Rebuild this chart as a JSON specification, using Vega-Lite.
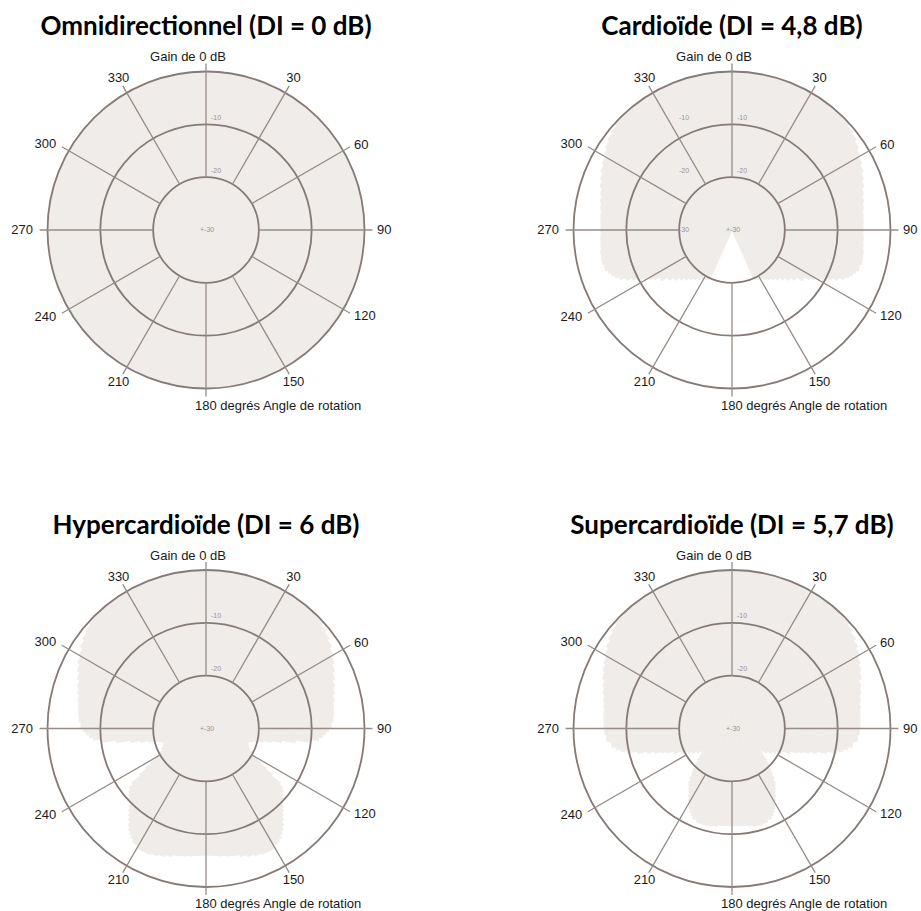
{
  "$schema": "https://vega.github.io/schema/vega-lite/v6.json",
  "background": "white",
  "padding": {"left": 11, "top": 14, "right": 0, "bottom": 0},
  "config": {
    "view": {"stroke": null},
    "title": {"font": "Lato", "fontSize": 26, "fontWeight": "bold", "color": "#000000", "anchor": "middle", "offset": 10, "baseline": "alphabetic"}
  },
  "columns": 2,
  "bounds": "flush",
  "spacing": {"row": 138.5, "column": 166},
  "datasets": {
    "omni": [{"v": 0}],
    "rings": [{"v": -20}, {"v": -10}, {"v": 0}],
    "spokes": [{"a": 0}, {"a": 30}, {"a": 60}, {"a": 90}, {"a": 120}, {"a": 150}, {"a": 180}, {"a": 210}, {"a": 240}, {"a": 270}, {"a": 300}, {"a": 330}],
    "lblC": [{"a": 30, "t": "30"}, {"a": 150, "t": "150"}, {"a": 210, "t": "210"}, {"a": 330, "t": "330"}],
    "lblL": [{"a": 60, "t": "60"}, {"a": 90, "t": "90"}, {"a": 120, "t": "120"}],
    "lblR": [{"a": 240, "t": "240"}, {"a": 270, "t": "270"}, {"a": 300, "t": "300"}],
    "top": [{"a": 0, "t": "Gain de 0 dB"}],
    "bottom": [{"a": 180, "t": "180 degrés Angle de rotation"}],
    "dbl": [{"v": -10, "t": "-10"}, {"v": -20, "t": "-20"}],
    "ctr": [{"v": -30, "t": "+-30"}],
    "ctr2": [{"v": -30, "t": "-30"}],
    "cardio": [
      {"a": 0, "b": 3, "v": 0}, {"a": 3, "b": 6, "v": 0}, {"a": 6, "b": 9, "v": 0}, {"a": 9, "b": 12, "v": 0}, {"a": 12, "b": 15, "v": 0},
      {"a": 15, "b": 18, "v": 0}, {"a": 18, "b": 21, "v": 0}, {"a": 21, "b": 24, "v": 0}, {"a": 24, "b": 27, "v": 0}, {"a": 27, "b": 30, "v": 0},
      {"a": 30, "b": 33, "v": 0}, {"a": 33, "b": 36, "v": 0}, {"a": 36, "b": 39, "v": 0}, {"a": 39, "b": 42, "v": 0}, {"a": 42, "b": 45, "v": 0},
      {"a": 45, "b": 48, "v": -0.2}, {"a": 48, "b": 51, "v": -0.6}, {"a": 51, "b": 54, "v": -0.9}, {"a": 54, "b": 57, "v": -1.4}, {"a": 57, "b": 60, "v": -1.9},
      {"a": 60, "b": 63, "v": -2.4}, {"a": 63, "b": 66, "v": -2.8}, {"a": 66, "b": 69, "v": -3.3}, {"a": 69, "b": 72, "v": -3.7}, {"a": 72, "b": 75, "v": -4.2},
      {"a": 75, "b": 78, "v": -4.5}, {"a": 78, "b": 81, "v": -4.8}, {"a": 81, "b": 84, "v": -5.0}, {"a": 84, "b": 87, "v": -5.1}, {"a": 87, "b": 90, "v": -5.2},
      {"a": 90, "b": 93, "v": -5.2}, {"a": 93, "b": 96, "v": -5.1}, {"a": 96, "b": 99, "v": -5.0}, {"a": 99, "b": 102, "v": -4.8}, {"a": 102, "b": 105, "v": -4.7},
      {"a": 105, "b": 108, "v": -4.9},
      {"a": 108, "b": 109.5, "v": -5.3}, {"a": 109.5, "b": 111, "v": -5.7}, {"a": 111, "b": 112.5, "v": -6.2}, {"a": 112.5, "b": 114, "v": -6.9}, {"a": 114, "b": 115.5, "v": -7.9},
      {"a": 115.5, "b": 117, "v": -9.0}, {"a": 117, "b": 118.5, "v": -10.1}, {"a": 118.5, "b": 120, "v": -11.0}, {"a": 120, "b": 121.5, "v": -11.9}, {"a": 121.5, "b": 123, "v": -12.6},
      {"a": 123, "b": 126, "v": -13.6}, {"a": 126, "b": 129, "v": -14.8}, {"a": 129, "b": 132, "v": -15.7}, {"a": 132, "b": 135, "v": -16.5},
      {"a": 135, "b": 138, "v": -17.2}, {"a": 138, "b": 141, "v": -17.8}, {"a": 141, "b": 144, "v": -18.3}, {"a": 144, "b": 147, "v": -18.7}, {"a": 147, "b": 150, "v": -19.1},
      {"a": 150, "b": 153, "v": -19.4}, {"a": 153, "b": 156, "v": -19.7}, {"a": 156, "b": 159, "v": -30}, {"a": 159, "b": 162, "v": -30}, {"a": 162, "b": 165, "v": -30},
      {"a": 165, "b": 168, "v": -30}, {"a": 168, "b": 171, "v": -30}, {"a": 171, "b": 174, "v": -30}, {"a": 174, "b": 177, "v": -30}, {"a": 177, "b": 180, "v": -30}
    ],
    "hyper": [
      {"a": 0, "b": 3, "v": 0}, {"a": 3, "b": 6, "v": 0}, {"a": 6, "b": 9, "v": 0}, {"a": 9, "b": 12, "v": 0}, {"a": 12, "b": 15, "v": 0},
      {"a": 15, "b": 18, "v": 0}, {"a": 18, "b": 21, "v": 0}, {"a": 21, "b": 24, "v": 0}, {"a": 24, "b": 27, "v": 0}, {"a": 27, "b": 30, "v": 0},
      {"a": 30, "b": 33, "v": 0}, {"a": 33, "b": 36, "v": 0}, {"a": 36, "b": 39, "v": 0}, {"a": 39, "b": 42, "v": 0}, {"a": 42, "b": 45, "v": 0},
      {"a": 45, "b": 48, "v": -0.3}, {"a": 48, "b": 51, "v": -0.7}, {"a": 51, "b": 54, "v": -1.1}, {"a": 54, "b": 57, "v": -1.6}, {"a": 57, "b": 60, "v": -2.2},
      {"a": 60, "b": 63, "v": -2.7}, {"a": 63, "b": 66, "v": -3.3}, {"a": 66, "b": 69, "v": -3.9}, {"a": 69, "b": 72, "v": -4.4}, {"a": 72, "b": 75, "v": -4.8},
      {"a": 75, "b": 78, "v": -5.2}, {"a": 78, "b": 81, "v": -5.5}, {"a": 81, "b": 84, "v": -5.7}, {"a": 84, "b": 87, "v": -5.9}, {"a": 87, "b": 90, "v": -6.3},
      {"a": 90, "b": 91.5, "v": -6.8}, {"a": 91.5, "b": 93, "v": -7.3}, {"a": 93, "b": 94.5, "v": -7.9}, {"a": 94.5, "b": 96, "v": -8.6}, {"a": 96, "b": 97.5, "v": -10.1},
      {"a": 97.5, "b": 99, "v": -12.9}, {"a": 99, "b": 100.5, "v": -15.5}, {"a": 100.5, "b": 102, "v": -17.4}, {"a": 102, "b": 103.5, "v": -18.9}, {"a": 103.5, "b": 105, "v": -20.0},
      {"a": 105, "b": 106.5, "v": -20.9}, {"a": 106.5, "b": 108, "v": -21.4},
      {"a": 108, "b": 111, "v": -21.6}, {"a": 111, "b": 114, "v": -21.3}, {"a": 114, "b": 117, "v": -20.8},
      {"a": 117, "b": 118.5, "v": -20.2}, {"a": 118.5, "b": 120, "v": -19.7}, {"a": 120, "b": 121.5, "v": -18.8}, {"a": 121.5, "b": 123, "v": -17.7}, {"a": 123, "b": 124.5, "v": -16.4},
      {"a": 124.5, "b": 126, "v": -14.7}, {"a": 126, "b": 127.5, "v": -12.6}, {"a": 127.5, "b": 129, "v": -11.6}, {"a": 129, "b": 130.5, "v": -11.1}, {"a": 130.5, "b": 132, "v": -10.7},
      {"a": 132, "b": 135, "v": -10.0},
      {"a": 135, "b": 136.5, "v": -9.2}, {"a": 136.5, "b": 138, "v": -8.6}, {"a": 138, "b": 139.5, "v": -8.0}, {"a": 139.5, "b": 141, "v": -7.3}, {"a": 141, "b": 142.5, "v": -6.5},
      {"a": 142.5, "b": 144, "v": -5.9}, {"a": 144, "b": 145.5, "v": -5.4}, {"a": 145.5, "b": 147, "v": -4.9},
      {"a": 147, "b": 150, "v": -4.4}, {"a": 150, "b": 153, "v": -3.9}, {"a": 153, "b": 156, "v": -3.9}, {"a": 156, "b": 159, "v": -4.2}, {"a": 159, "b": 162, "v": -4.5},
      {"a": 162, "b": 165, "v": -4.9}, {"a": 165, "b": 168, "v": -5.3}, {"a": 168, "b": 171, "v": -5.5}, {"a": 171, "b": 174, "v": -5.7}, {"a": 174, "b": 177, "v": -5.9},
      {"a": 177, "b": 180, "v": -6.0}
    ],
    "super": [
      {"a": 0, "b": 3, "v": 0}, {"a": 3, "b": 6, "v": 0}, {"a": 6, "b": 9, "v": 0}, {"a": 9, "b": 12, "v": 0}, {"a": 12, "b": 15, "v": 0},
      {"a": 15, "b": 18, "v": 0}, {"a": 18, "b": 21, "v": 0}, {"a": 21, "b": 24, "v": 0}, {"a": 24, "b": 27, "v": 0}, {"a": 27, "b": 30, "v": 0},
      {"a": 30, "b": 33, "v": 0}, {"a": 33, "b": 36, "v": 0}, {"a": 36, "b": 39, "v": 0}, {"a": 39, "b": 42, "v": 0}, {"a": 42, "b": 45, "v": 0},
      {"a": 45, "b": 48, "v": -0.3}, {"a": 48, "b": 51, "v": -0.7}, {"a": 51, "b": 54, "v": -1.1}, {"a": 54, "b": 57, "v": -1.6}, {"a": 57, "b": 60, "v": -2.1},
      {"a": 60, "b": 63, "v": -2.7}, {"a": 63, "b": 66, "v": -3.2}, {"a": 66, "b": 69, "v": -3.7}, {"a": 69, "b": 72, "v": -4.3}, {"a": 72, "b": 75, "v": -4.7},
      {"a": 75, "b": 78, "v": -5.1}, {"a": 78, "b": 81, "v": -5.4}, {"a": 81, "b": 84, "v": -5.6}, {"a": 84, "b": 87, "v": -5.7}, {"a": 87, "b": 90, "v": -5.8},
      {"a": 90, "b": 93, "v": -5.9}, {"a": 93, "b": 96, "v": -6.2}, {"a": 96, "b": 99, "v": -7.0},
      {"a": 99, "b": 100.5, "v": -7.8}, {"a": 100.5, "b": 102, "v": -8.6}, {"a": 102, "b": 103.5, "v": -9.7}, {"a": 103.5, "b": 105, "v": -11.5}, {"a": 105, "b": 106.5, "v": -13.3},
      {"a": 106.5, "b": 108, "v": -14.7}, {"a": 108, "b": 109.5, "v": -15.9}, {"a": 109.5, "b": 111, "v": -16.9},
      {"a": 111, "b": 114, "v": -18.1}, {"a": 114, "b": 117, "v": -19.5}, {"a": 117, "b": 120, "v": -20.5}, {"a": 120, "b": 123, "v": -21.3}, {"a": 123, "b": 126, "v": -22.0},
      {"a": 126, "b": 129, "v": -22.9},
      {"a": 129, "b": 130.5, "v": -22.5}, {"a": 130.5, "b": 132, "v": -21.9}, {"a": 132, "b": 133.5, "v": -21.2}, {"a": 133.5, "b": 135, "v": -20.5}, {"a": 135, "b": 136.5, "v": -19.9},
      {"a": 136.5, "b": 138, "v": -19.2}, {"a": 138, "b": 139.5, "v": -18.5}, {"a": 139.5, "b": 141, "v": -17.7}, {"a": 141, "b": 142.5, "v": -16.8}, {"a": 142.5, "b": 144, "v": -16.4},
      {"a": 144, "b": 145.5, "v": -15.9}, {"a": 145.5, "b": 147, "v": -15.4}, {"a": 147, "b": 148.5, "v": -14.7}, {"a": 148.5, "b": 150, "v": -14.1}, {"a": 150, "b": 151.5, "v": -13.4},
      {"a": 151.5, "b": 153, "v": -12.8}, {"a": 153, "b": 154.5, "v": -12.3}, {"a": 154.5, "b": 156, "v": -11.8},
      {"a": 156, "b": 159, "v": -11.4}, {"a": 159, "b": 162, "v": -11.1}, {"a": 162, "b": 165, "v": -11.0}, {"a": 165, "b": 168, "v": -11.1}, {"a": 168, "b": 171, "v": -11.3},
      {"a": 171, "b": 174, "v": -11.5}, {"a": 174, "b": 177, "v": -11.6}, {"a": 177, "b": 180, "v": -11.6}
    ]
  },
  "concat": [
    {
      "title": "Omnidirectionnel (DI = 0 dB)",
      "width": 360, "height": 360,
      "resolve": {"scale": {"theta": "independent"}},
      "layer": [
        {"data": {"name": "omni"}, "mark": {"type": "arc", "theta": 0, "theta2": 6.2832, "fill": "#efecea"}, "encoding": {"radius": {"field": "v", "type": "quantitative", "scale": {"type": "linear", "domain": [-30, 0], "range": [0, 158.5]}}, "radius2": {"datum": -30}}},
        {"data": {"name": "rings"}, "mark": {"type": "arc", "theta": 0, "theta2": 6.2832, "filled": false, "stroke": "#857a75", "strokeWidth": 1.8}, "encoding": {"radius": {"field": "v", "type": "quantitative"}, "radius2": {"datum": -30}}},
        {"data": {"name": "spokes"}, "mark": {"type": "arc", "filled": false, "stroke": "#978c87", "strokeWidth": 1.3}, "encoding": {"theta": {"field": "a", "type": "quantitative", "scale": {"domain": [0, 360]}, "stack": false}, "theta2": {"field": "a"}, "radius": {"datum": 1.5, "type": "quantitative"}, "radius2": {"datum": -20}}},
        {"data": {"name": "lblC"}, "mark": {"type": "text", "radius": 175, "align": "center", "baseline": "middle", "font": "Liberation Sans", "fontSize": 13, "color": "#1a1a1a"}, "encoding": {"theta": {"field": "a", "type": "quantitative", "scale": {"domain": [0, 360]}, "stack": false}, "text": {"field": "t"}}},
        {"data": {"name": "lblL"}, "mark": {"type": "text", "radius": 171, "align": "left", "baseline": "middle", "font": "Liberation Sans", "fontSize": 13, "color": "#1a1a1a"}, "encoding": {"theta": {"field": "a", "type": "quantitative", "scale": {"domain": [0, 360]}, "stack": false}, "text": {"field": "t"}}},
        {"data": {"name": "lblR"}, "mark": {"type": "text", "radius": 173, "align": "right", "baseline": "middle", "font": "Liberation Sans", "fontSize": 13, "color": "#1a1a1a"}, "encoding": {"theta": {"field": "a", "type": "quantitative", "scale": {"domain": [0, 360]}, "stack": false}, "text": {"field": "t"}}},
        {"data": {"name": "top"}, "mark": {"type": "text", "radius": 173, "align": "center", "baseline": "middle", "dx": -18, "font": "Liberation Sans", "fontSize": 13, "color": "#1a1a1a"}, "encoding": {"theta": {"field": "a", "type": "quantitative", "scale": {"domain": [0, 360]}, "stack": false}, "text": {"field": "t"}}},
        {"data": {"name": "bottom"}, "mark": {"type": "text", "radius": 175.5, "align": "left", "baseline": "middle", "dx": -11, "font": "Liberation Sans", "fontSize": 13, "color": "#1a1a1a"}, "encoding": {"theta": {"field": "a", "type": "quantitative", "scale": {"domain": [0, 360]}, "stack": false}, "text": {"field": "t"}}},
        {"data": {"name": "dbl"}, "mark": {"type": "text", "theta": 0, "align": "left", "baseline": "middle", "dx": 5, "dy": -6.5, "font": "Liberation Sans", "fontSize": 7, "color": "#9c9490"}, "encoding": {"radius": {"field": "v", "type": "quantitative"}, "text": {"field": "t"}}},
        {"data": {"name": "ctr"}, "mark": {"type": "text", "theta": 0, "align": "left", "baseline": "middle", "dx": -6, "font": "Liberation Sans", "fontSize": 7, "color": "#9c9490"}, "encoding": {"radius": {"field": "v", "type": "quantitative"}, "text": {"field": "t"}}}
      ]
    },
    {
      "title": "Cardioïde (DI = 4,8 dB)",
      "width": 360, "height": 360,
      "resolve": {"scale": {"theta": "independent"}},
      "layer": [
        {"data": {"name": "cardio"}, "mark": {"type": "arc", "fill": "#efecea", "stroke": "#efecea", "strokeWidth": 0.8}, "encoding": {"theta": {"field": "a", "type": "quantitative", "scale": {"domain": [0, 360]}, "stack": false}, "theta2": {"field": "b"}, "radius": {"field": "v", "type": "quantitative", "scale": {"type": "linear", "domain": [-30, 0], "range": [0, 158.5]}}, "radius2": {"datum": -30}}},
        {"data": {"name": "cardio"}, "mark": {"type": "arc", "fill": "#efecea", "stroke": "#efecea", "strokeWidth": 0.8}, "encoding": {"theta": {"field": "a", "type": "quantitative", "scale": {"domain": [0, 360], "reverse": true}, "stack": false}, "theta2": {"field": "b"}, "radius": {"field": "v", "type": "quantitative"}, "radius2": {"datum": -30}}},
        {"data": {"name": "rings"}, "mark": {"type": "arc", "theta": 0, "theta2": 6.2832, "filled": false, "stroke": "#857a75", "strokeWidth": 1.8}, "encoding": {"radius": {"field": "v", "type": "quantitative"}, "radius2": {"datum": -30}}},
        {"data": {"name": "spokes"}, "mark": {"type": "arc", "filled": false, "stroke": "#978c87", "strokeWidth": 1.3}, "encoding": {"theta": {"field": "a", "type": "quantitative", "scale": {"domain": [0, 360]}, "stack": false}, "theta2": {"field": "a"}, "radius": {"datum": 1.5, "type": "quantitative"}, "radius2": {"datum": -20}}},
        {"data": {"name": "lblC"}, "mark": {"type": "text", "radius": 175, "align": "center", "baseline": "middle", "font": "Liberation Sans", "fontSize": 13, "color": "#1a1a1a"}, "encoding": {"theta": {"field": "a", "type": "quantitative", "scale": {"domain": [0, 360]}, "stack": false}, "text": {"field": "t"}}},
        {"data": {"name": "lblL"}, "mark": {"type": "text", "radius": 171, "align": "left", "baseline": "middle", "font": "Liberation Sans", "fontSize": 13, "color": "#1a1a1a"}, "encoding": {"theta": {"field": "a", "type": "quantitative", "scale": {"domain": [0, 360]}, "stack": false}, "text": {"field": "t"}}},
        {"data": {"name": "lblR"}, "mark": {"type": "text", "radius": 173, "align": "right", "baseline": "middle", "font": "Liberation Sans", "fontSize": 13, "color": "#1a1a1a"}, "encoding": {"theta": {"field": "a", "type": "quantitative", "scale": {"domain": [0, 360]}, "stack": false}, "text": {"field": "t"}}},
        {"data": {"name": "top"}, "mark": {"type": "text", "radius": 173, "align": "center", "baseline": "middle", "dx": -18, "font": "Liberation Sans", "fontSize": 13, "color": "#1a1a1a"}, "encoding": {"theta": {"field": "a", "type": "quantitative", "scale": {"domain": [0, 360]}, "stack": false}, "text": {"field": "t"}}},
        {"data": {"name": "bottom"}, "mark": {"type": "text", "radius": 175.5, "align": "left", "baseline": "middle", "dx": -11, "font": "Liberation Sans", "fontSize": 13, "color": "#1a1a1a"}, "encoding": {"theta": {"field": "a", "type": "quantitative", "scale": {"domain": [0, 360]}, "stack": false}, "text": {"field": "t"}}},
        {"data": {"name": "dbl"}, "mark": {"type": "text", "theta": 0, "align": "left", "baseline": "middle", "dx": 5, "dy": -6.5, "font": "Liberation Sans", "fontSize": 7, "color": "#9c9490"}, "encoding": {"radius": {"field": "v", "type": "quantitative"}, "text": {"field": "t"}}},
        {"data": {"name": "dbl"}, "mark": {"type": "text", "theta": 0, "align": "left", "baseline": "middle", "dx": -53, "dy": -6.5, "font": "Liberation Sans", "fontSize": 7, "color": "#9c9490"}, "encoding": {"radius": {"field": "v", "type": "quantitative"}, "text": {"field": "t"}}},
        {"data": {"name": "ctr"}, "mark": {"type": "text", "theta": 0, "align": "left", "baseline": "middle", "dx": -6, "font": "Liberation Sans", "fontSize": 7, "color": "#9c9490"}, "encoding": {"radius": {"field": "v", "type": "quantitative"}, "text": {"field": "t"}}},
        {"data": {"name": "ctr2"}, "mark": {"type": "text", "theta": 0, "align": "left", "baseline": "middle", "dx": -53, "font": "Liberation Sans", "fontSize": 7, "color": "#9c9490"}, "encoding": {"radius": {"field": "v", "type": "quantitative"}, "text": {"field": "t"}}}
      ]
    },
    {
      "title": "Hypercardioïde (DI = 6 dB)",
      "width": 360, "height": 360,
      "resolve": {"scale": {"theta": "independent"}},
      "layer": [
        {"data": {"name": "hyper"}, "mark": {"type": "arc", "fill": "#efecea", "stroke": "#efecea", "strokeWidth": 0.8}, "encoding": {"theta": {"field": "a", "type": "quantitative", "scale": {"domain": [0, 360]}, "stack": false}, "theta2": {"field": "b"}, "radius": {"field": "v", "type": "quantitative", "scale": {"type": "linear", "domain": [-30, 0], "range": [0, 158.5]}}, "radius2": {"datum": -30}}},
        {"data": {"name": "hyper"}, "mark": {"type": "arc", "fill": "#efecea", "stroke": "#efecea", "strokeWidth": 0.8}, "encoding": {"theta": {"field": "a", "type": "quantitative", "scale": {"domain": [0, 360], "reverse": true}, "stack": false}, "theta2": {"field": "b"}, "radius": {"field": "v", "type": "quantitative"}, "radius2": {"datum": -30}}},
        {"data": {"name": "rings"}, "mark": {"type": "arc", "theta": 0, "theta2": 6.2832, "filled": false, "stroke": "#857a75", "strokeWidth": 1.8}, "encoding": {"radius": {"field": "v", "type": "quantitative"}, "radius2": {"datum": -30}}},
        {"data": {"name": "spokes"}, "mark": {"type": "arc", "filled": false, "stroke": "#978c87", "strokeWidth": 1.3}, "encoding": {"theta": {"field": "a", "type": "quantitative", "scale": {"domain": [0, 360]}, "stack": false}, "theta2": {"field": "a"}, "radius": {"datum": 1.5, "type": "quantitative"}, "radius2": {"datum": -20}}},
        {"data": {"name": "lblC"}, "mark": {"type": "text", "radius": 175, "align": "center", "baseline": "middle", "font": "Liberation Sans", "fontSize": 13, "color": "#1a1a1a"}, "encoding": {"theta": {"field": "a", "type": "quantitative", "scale": {"domain": [0, 360]}, "stack": false}, "text": {"field": "t"}}},
        {"data": {"name": "lblL"}, "mark": {"type": "text", "radius": 171, "align": "left", "baseline": "middle", "font": "Liberation Sans", "fontSize": 13, "color": "#1a1a1a"}, "encoding": {"theta": {"field": "a", "type": "quantitative", "scale": {"domain": [0, 360]}, "stack": false}, "text": {"field": "t"}}},
        {"data": {"name": "lblR"}, "mark": {"type": "text", "radius": 173, "align": "right", "baseline": "middle", "font": "Liberation Sans", "fontSize": 13, "color": "#1a1a1a"}, "encoding": {"theta": {"field": "a", "type": "quantitative", "scale": {"domain": [0, 360]}, "stack": false}, "text": {"field": "t"}}},
        {"data": {"name": "top"}, "mark": {"type": "text", "radius": 173, "align": "center", "baseline": "middle", "dx": -18, "font": "Liberation Sans", "fontSize": 13, "color": "#1a1a1a"}, "encoding": {"theta": {"field": "a", "type": "quantitative", "scale": {"domain": [0, 360]}, "stack": false}, "text": {"field": "t"}}},
        {"data": {"name": "bottom"}, "mark": {"type": "text", "radius": 175.5, "align": "left", "baseline": "middle", "dx": -11, "font": "Liberation Sans", "fontSize": 13, "color": "#1a1a1a"}, "encoding": {"theta": {"field": "a", "type": "quantitative", "scale": {"domain": [0, 360]}, "stack": false}, "text": {"field": "t"}}},
        {"data": {"name": "dbl"}, "mark": {"type": "text", "theta": 0, "align": "left", "baseline": "middle", "dx": 5, "dy": -6.5, "font": "Liberation Sans", "fontSize": 7, "color": "#9c9490"}, "encoding": {"radius": {"field": "v", "type": "quantitative"}, "text": {"field": "t"}}},
        {"data": {"name": "ctr"}, "mark": {"type": "text", "theta": 0, "align": "left", "baseline": "middle", "dx": -6, "font": "Liberation Sans", "fontSize": 7, "color": "#9c9490"}, "encoding": {"radius": {"field": "v", "type": "quantitative"}, "text": {"field": "t"}}}
      ]
    },
    {
      "title": "Supercardioïde (DI = 5,7 dB)",
      "width": 360, "height": 360,
      "resolve": {"scale": {"theta": "independent"}},
      "layer": [
        {"data": {"name": "super"}, "mark": {"type": "arc", "fill": "#efecea", "stroke": "#efecea", "strokeWidth": 0.8}, "encoding": {"theta": {"field": "a", "type": "quantitative", "scale": {"domain": [0, 360]}, "stack": false}, "theta2": {"field": "b"}, "radius": {"field": "v", "type": "quantitative", "scale": {"type": "linear", "domain": [-30, 0], "range": [0, 158.5]}}, "radius2": {"datum": -30}}},
        {"data": {"name": "super"}, "mark": {"type": "arc", "fill": "#efecea", "stroke": "#efecea", "strokeWidth": 0.8}, "encoding": {"theta": {"field": "a", "type": "quantitative", "scale": {"domain": [0, 360], "reverse": true}, "stack": false}, "theta2": {"field": "b"}, "radius": {"field": "v", "type": "quantitative"}, "radius2": {"datum": -30}}},
        {"data": {"name": "rings"}, "mark": {"type": "arc", "theta": 0, "theta2": 6.2832, "filled": false, "stroke": "#857a75", "strokeWidth": 1.8}, "encoding": {"radius": {"field": "v", "type": "quantitative"}, "radius2": {"datum": -30}}},
        {"data": {"name": "spokes"}, "mark": {"type": "arc", "filled": false, "stroke": "#978c87", "strokeWidth": 1.3}, "encoding": {"theta": {"field": "a", "type": "quantitative", "scale": {"domain": [0, 360]}, "stack": false}, "theta2": {"field": "a"}, "radius": {"datum": 1.5, "type": "quantitative"}, "radius2": {"datum": -20}}},
        {"data": {"name": "lblC"}, "mark": {"type": "text", "radius": 175, "align": "center", "baseline": "middle", "font": "Liberation Sans", "fontSize": 13, "color": "#1a1a1a"}, "encoding": {"theta": {"field": "a", "type": "quantitative", "scale": {"domain": [0, 360]}, "stack": false}, "text": {"field": "t"}}},
        {"data": {"name": "lblL"}, "mark": {"type": "text", "radius": 171, "align": "left", "baseline": "middle", "font": "Liberation Sans", "fontSize": 13, "color": "#1a1a1a"}, "encoding": {"theta": {"field": "a", "type": "quantitative", "scale": {"domain": [0, 360]}, "stack": false}, "text": {"field": "t"}}},
        {"data": {"name": "lblR"}, "mark": {"type": "text", "radius": 173, "align": "right", "baseline": "middle", "font": "Liberation Sans", "fontSize": 13, "color": "#1a1a1a"}, "encoding": {"theta": {"field": "a", "type": "quantitative", "scale": {"domain": [0, 360]}, "stack": false}, "text": {"field": "t"}}},
        {"data": {"name": "top"}, "mark": {"type": "text", "radius": 173, "align": "center", "baseline": "middle", "dx": -18, "font": "Liberation Sans", "fontSize": 13, "color": "#1a1a1a"}, "encoding": {"theta": {"field": "a", "type": "quantitative", "scale": {"domain": [0, 360]}, "stack": false}, "text": {"field": "t"}}},
        {"data": {"name": "bottom"}, "mark": {"type": "text", "radius": 175.5, "align": "left", "baseline": "middle", "dx": -11, "font": "Liberation Sans", "fontSize": 13, "color": "#1a1a1a"}, "encoding": {"theta": {"field": "a", "type": "quantitative", "scale": {"domain": [0, 360]}, "stack": false}, "text": {"field": "t"}}},
        {"data": {"name": "dbl"}, "mark": {"type": "text", "theta": 0, "align": "left", "baseline": "middle", "dx": 5, "dy": -6.5, "font": "Liberation Sans", "fontSize": 7, "color": "#9c9490"}, "encoding": {"radius": {"field": "v", "type": "quantitative"}, "text": {"field": "t"}}},
        {"data": {"name": "ctr"}, "mark": {"type": "text", "theta": 0, "align": "left", "baseline": "middle", "dx": -6, "font": "Liberation Sans", "fontSize": 7, "color": "#9c9490"}, "encoding": {"radius": {"field": "v", "type": "quantitative"}, "text": {"field": "t"}}}
      ]
    }
  ]
}
